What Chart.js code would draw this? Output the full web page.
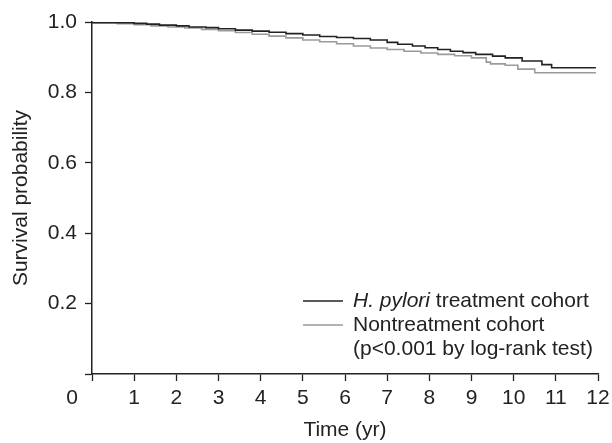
<!DOCTYPE html>
<html>
<head>
<meta charset="utf-8">
<script src="https://cdn.jsdelivr.net/npm/chart.js@4.4.1/dist/chart.umd.min.js"></script>
<style>
  html, body { margin: 0; padding: 0; background: #fff; }
  #wrap { width: 612px; height: 443px; }
</style>
</head>
<body>
<div id="wrap"><canvas id="c" width="612" height="443"></canvas></div>
<script>
// ---- data ----
const seriesNames = ["H. pylori treatment cohort", "Nontreatment cohort"];
const noteText = "(p<0.001 by log-rank test)";

const treatTimes = [0, 1.0, 1.3, 1.6, 2.0, 2.3, 2.7, 3.0, 3.4, 3.8, 4.2, 4.6, 5.0, 5.4, 5.8, 6.2, 6.6, 7.0, 7.25, 7.6, 7.9, 8.2, 8.5, 8.8, 9.1, 9.5, 9.8, 10.2, 10.67, 10.9, 11.18, 11.95];
const treatSurv  = [1.0, 0.998, 0.996, 0.994, 0.991, 0.989, 0.986, 0.984, 0.981, 0.977, 0.974, 0.971, 0.967, 0.963, 0.959, 0.956, 0.953, 0.949, 0.942, 0.937, 0.932, 0.927, 0.922, 0.917, 0.913, 0.908, 0.903, 0.898, 0.889, 0.879, 0.870, 0.870];

const nonTimes = [0, 0.6, 1.0, 1.4, 1.8, 2.2, 2.6, 3.0, 3.4, 3.8, 4.2, 4.6, 5.0, 5.4, 5.8, 6.2, 6.6, 7.0, 7.4, 7.8, 8.2, 8.6, 9.0, 9.35, 9.45, 9.8, 10.1, 10.5, 10.98, 11.95];
const nonSurv  = [1.0, 0.998, 0.995, 0.992, 0.989, 0.986, 0.983, 0.979, 0.975, 0.970, 0.965, 0.960, 0.955, 0.949, 0.944, 0.938, 0.932, 0.926, 0.922, 0.917, 0.912, 0.908, 0.904, 0.898, 0.886, 0.881, 0.877, 0.866, 0.856, 0.856];

const xTickValues = [0,1,2,3,4,5,6,7,8,9,10,11,12];
const yTickValues = [0, 0.2, 0.4, 0.6, 0.8, 1.0];

// ---- styles ----
const FONT = "'Liberation Sans', Arial, Helvetica, sans-serif";
const FS = 21;
const INK = "#222222";
const GRAY = "#9a9a9a";

const toPts = (ts, vs) => ts.map((t, i) => ({x: t, y: vs[i]}));

const originLabel = {
  id: 'originLabel',
  afterDraw(chart) {
    const ctx = chart.ctx;
    const xs = chart.scales.x, ys = chart.scales.y;
    ctx.save();
    ctx.font = FS + "px " + FONT;
    ctx.fillStyle = INK;
    ctx.textAlign = 'center';
    ctx.textBaseline = 'middle';
    ctx.fillText(String(xTickValues[0]), xs.getPixelForValue(xTickValues[0]) - 20, ys.bottom + 24);
    ctx.restore();
  }
};

const customLegend = {
  id: 'customLegend',
  afterDraw(chart) {
    const ctx = chart.ctx;
    const a = chart.chartArea;
    const x0 = a.left + 211, lineLen = 40, tx = x0 + 50;
    const y1 = a.bottom - 73, gap = 24;
    ctx.save();
    ctx.textBaseline = 'middle';
    ctx.textAlign = 'left';
    const ds = chart.data.datasets;
    ctx.strokeStyle = ds[0].borderColor; ctx.lineWidth = 1.6;
    ctx.beginPath(); ctx.moveTo(x0, y1); ctx.lineTo(x0 + lineLen, y1); ctx.stroke();
    const name = ds[0].label;
    const italicPart = name.slice(0, 9); // "H. pylori"
    const restPart = name.slice(9);
    ctx.fillStyle = INK;
    ctx.font = "italic " + FS + "px " + FONT;
    ctx.fillText(italicPart, tx, y1);
    const w = ctx.measureText(italicPart).width;
    ctx.font = FS + "px " + FONT;
    ctx.fillText(restPart, tx + w, y1);
    ctx.strokeStyle = ds[1].borderColor; ctx.lineWidth = 1.6;
    ctx.beginPath(); ctx.moveTo(x0, y1 + gap); ctx.lineTo(x0 + lineLen, y1 + gap); ctx.stroke();
    ctx.fillText(ds[1].label, tx, y1 + gap);
    ctx.fillText(noteText, tx, y1 + 2 * gap);
    ctx.restore();
  }
};

new Chart(document.getElementById('c'), {
  type: 'line',
  data: {
    datasets: [
      { label: seriesNames[0], data: toPts(treatTimes, treatSurv), borderColor: INK, borderWidth: 1.6, pointRadius: 0, stepped: 'after', fill: false },
      { label: seriesNames[1], data: toPts(nonTimes, nonSurv), borderColor: GRAY, borderWidth: 1.6, pointRadius: 0, stepped: 'after', fill: false }
    ]
  },
  options: {
    responsive: false,
    animation: false,
    devicePixelRatio: 1,
    layout: { padding: { left: 0, right: 14, top: 22, bottom: 0 } },
    plugins: { legend: { display: false }, tooltip: { enabled: false } },
    scales: {
      x: {
        type: 'linear', min: 0, max: 12,
        afterFit(s) { s.height = 69; s.paddingLeft = 0; s.paddingRight = 0; },
        afterBuildTicks(s) { s.ticks = xTickValues.map(v => ({value: v})); },
        ticks: { color: INK, font: { family: FONT, size: FS }, padding: 5, maxRotation: 0,
                 callback: (v) => v === 0 ? '' : String(v) },
        grid: { drawOnChartArea: false, drawTicks: true, tickLength: 7, color: INK, tickWidth: 1.3 },
        border: { display: true, color: INK, width: 1.5 },
        title: { display: true, text: 'Time (yr)', color: INK, font: { family: FONT, size: FS }, padding: { top: 0, bottom: 0 } }
      },
      y: {
        min: 0, max: 1,
        afterFit(s) { s.width = 92; s.paddingTop = 0; s.paddingBottom = 0; },
        afterBuildTicks(s) { s.ticks = yTickValues.map(v => ({value: v})); },
        ticks: { color: INK, font: { family: FONT, size: FS }, padding: 8,
                 callback: (v) => v === 0 ? '' : Number(v).toFixed(1) },
        grid: { drawOnChartArea: false, drawTicks: true, tickLength: 7, color: INK, tickWidth: 1.3 },
        border: { display: true, color: INK, width: 1.5 },
        title: { display: true, text: 'Survival probability', color: INK, font: { family: FONT, size: FS }, padding: { top: 9, bottom: 0 } }
      }
    }
  },
  plugins: [originLabel, customLegend]
});
</script>
</body>
</html>
